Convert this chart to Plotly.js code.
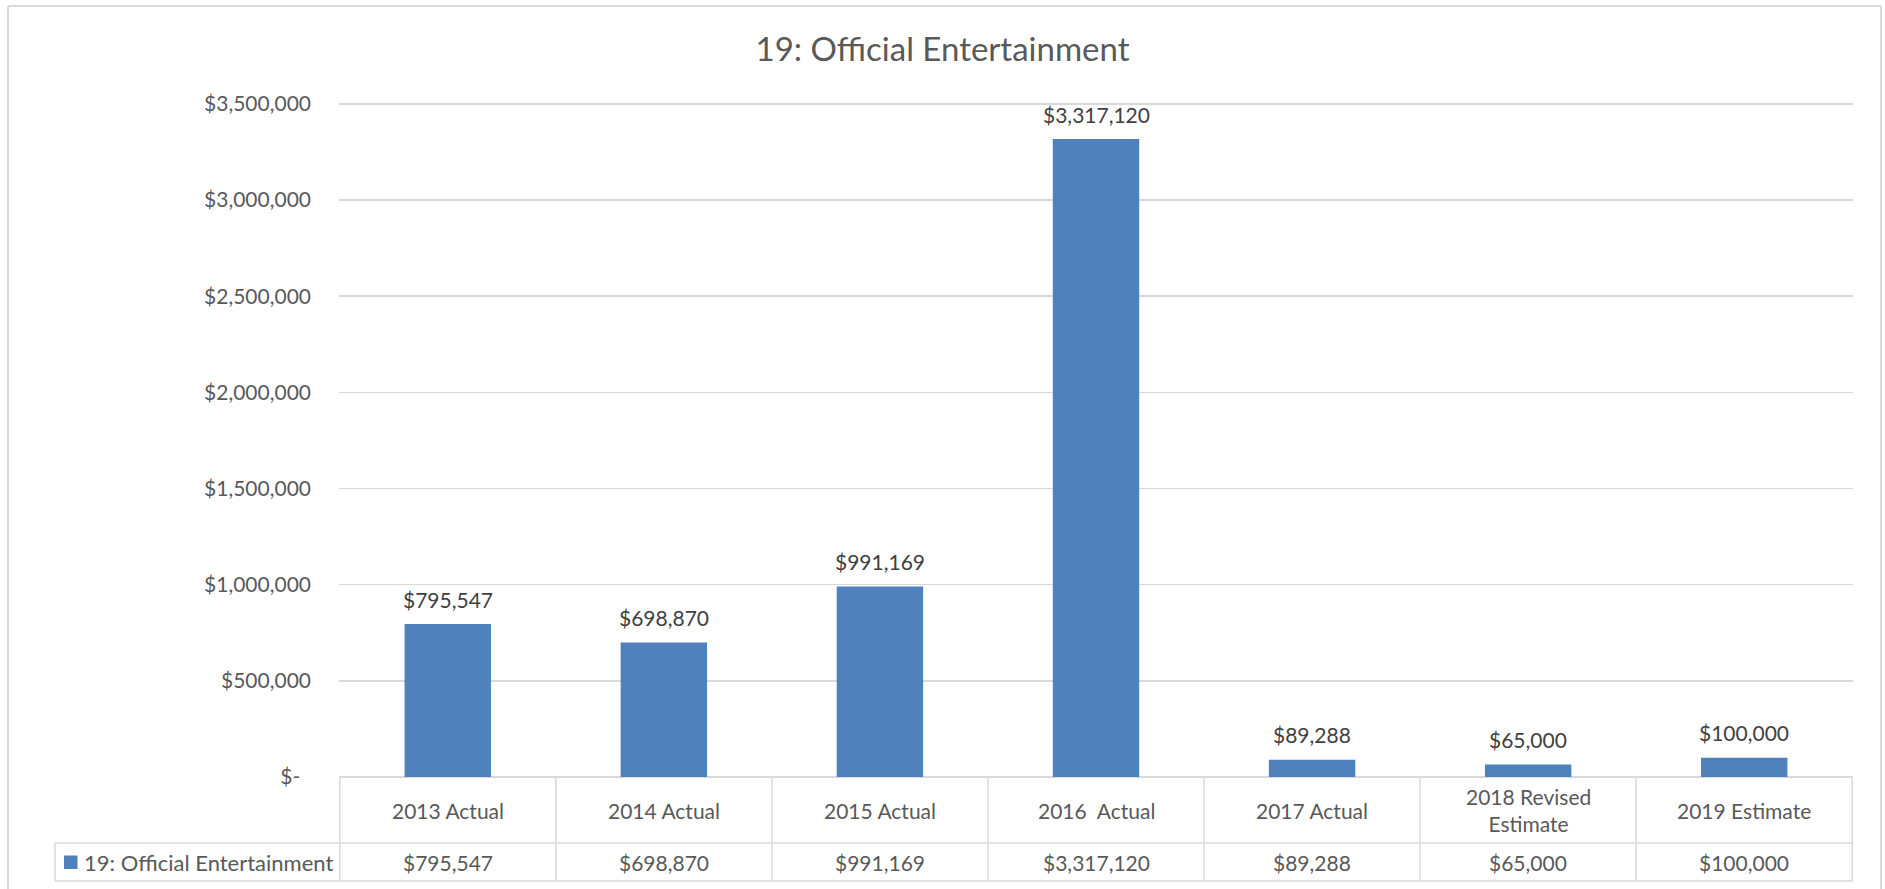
<!DOCTYPE html>
<html>
<head>
<meta charset="utf-8">
<script src="https://cdn.plot.ly/plotly-3.0.1.min.js"></script>
<style>
  html, body { margin: 0; padding: 0; background: #ffffff; }
  #chart { width: 1885px; height: 889px; }
</style>
</head>
<body>
<div id="chart"></div>
<script>
// ---- data ----
const chartTitle = "19: Official Entertainment";
const seriesName = "19: Official Entertainment";
const categories = ["2013 Actual", "2014 Actual", "2015 Actual", "2016\u00a0 Actual", "2017 Actual", "2018 Revised<br>Estimate", "2019 Estimate"];
const values = [795547, 698870, 991169, 3317120, 89288, 65000, 100000];
const yTickVals = [0, 500000, 1000000, 1500000, 2000000, 2500000, 3000000, 3500000];
const yTickText = ["$-\u00a0\u00a0", "$500,000", "$1,000,000", "$1,500,000", "$2,000,000", "$2,500,000", "$3,000,000", "$3,500,000"];

// ---- layout geometry (pixels) ----
const W = 1885, H = 889;
const M = {l: 339, r: 32, t: 102, b: 112};
const PW = W - M.l - M.r, PH = H - M.t - M.b;
const px2x = px => (px - M.l) / PW;
const px2y = py => (H - M.b - py) / PH;

const FONT = "Lato, 'Open Sans', sans-serif";
const TXT = "#595959";
const LBL = "#404040";
const GRID = "#d9d9d9";
const BAR = "#4f81bd";
const LBL_SIZE = 21;

const fmt = v => "$" + v.toLocaleString("en-US");

const trace = {
  type: "bar",
  x: categories,
  y: values,
  name: seriesName,
  marker: {color: BAR, line: {width: 0}},
  hoverinfo: "skip",
  showlegend: false
};

const annotations = [];
// data labels above bars
values.forEach((v, i) => {
  annotations.push({
    x: categories[i], y: v, xref: "x", yref: "y",
    text: fmt(v), showarrow: false, yanchor: "middle", yshift: 25,
    font: {family: FONT, size: LBL_SIZE, color: LBL}
  });
});
// table header row
categories.forEach((c, i) => {
  annotations.push({
    x: c, y: px2y(810), xref: "x", yref: "paper",
    text: c, showarrow: false, yanchor: "middle", xanchor: "center",
    font: {family: FONT, size: LBL_SIZE, color: TXT}
  });
});
// table data row
values.forEach((v, i) => {
  annotations.push({
    x: categories[i], y: px2y(862), xref: "x", yref: "paper",
    text: fmt(v), showarrow: false, yanchor: "middle", xanchor: "center",
    font: {family: FONT, size: LBL_SIZE, color: TXT}
  });
});
// legend key text
annotations.push({
  x: px2x(82), y: px2y(862), xref: "paper", yref: "paper",
  text: seriesName, showarrow: false, xanchor: "left", yanchor: "middle",
  font: {family: FONT, size: 22, color: TXT}
});

const shapes = [];
const ln = {color: GRID, width: 1.5};
// vertical dividers at category boundaries
for (let i = 0; i <= categories.length; i++) {
  shapes.push({type: "line", xref: "x", yref: "paper", x0: i - 0.5, x1: i - 0.5, y0: 0, y1: px2y(881), line: ln, layer: "above"});
}
// horizontal table lines
shapes.push({type: "line", xref: "paper", yref: "paper", x0: px2x(55), x1: 1, y0: px2y(843), y1: px2y(843), line: ln});
shapes.push({type: "line", xref: "paper", yref: "paper", x0: px2x(55), x1: 1, y0: px2y(881), y1: px2y(881), line: ln});
// legend cell left edge
shapes.push({type: "line", xref: "paper", yref: "paper", x0: px2x(55), x1: px2x(55), y0: px2y(843), y1: px2y(881), line: ln});
// legend key square
shapes.push({type: "rect", xref: "paper", yref: "paper", x0: px2x(64), x1: px2x(77.5), y0: px2y(869), y1: px2y(855.5), fillcolor: BAR, line: {width: 0}});
// outer chart border
const bd = {color: GRID, width: 2};
shapes.push({type: "line", xref: "paper", yref: "paper", x0: px2x(8), x1: px2x(8), y0: px2y(6), y1: px2y(900), line: bd});
shapes.push({type: "line", xref: "paper", yref: "paper", x0: px2x(8), x1: px2x(1881), y0: px2y(6), y1: px2y(6), line: bd});
shapes.push({type: "line", xref: "paper", yref: "paper", x0: px2x(1881), x1: px2x(1881), y0: px2y(6), y1: px2y(900), line: bd});

const layout = {
  width: W, height: H,
  margin: M,
  paper_bgcolor: "#ffffff",
  plot_bgcolor: "#ffffff",
  font: {family: FONT, color: TXT},
  title: {
    text: chartTitle,
    x: 0.5, xref: "container", xanchor: "center",
    y: 1 - 49 / H, yref: "container", yanchor: "middle",
    font: {family: FONT, size: 33, color: TXT}
  },
  bargap: 0.6,
  xaxis: {
    type: "category",
    showticklabels: false,
    showgrid: false,
    showline: false,
    zeroline: false,
    ticks: "",
    fixedrange: true
  },
  yaxis: {
    range: [0, 3510000],
    tickvals: yTickVals,
    ticktext: yTickText,
    showgrid: true,
    gridcolor: GRID,
    gridwidth: 1.5,
    zeroline: true,
    zerolinecolor: GRID,
    zerolinewidth: 1.5,
    showline: false,
    ticks: "",
    ticklabelstandoff: 27,
    tickfont: {family: FONT, size: LBL_SIZE, color: TXT},
    fixedrange: true
  },
  showlegend: false,
  annotations: annotations,
  shapes: shapes
};

Plotly.newPlot("chart", [trace], layout, {displayModeBar: false, staticPlot: true});
</script>
</body>
</html>
